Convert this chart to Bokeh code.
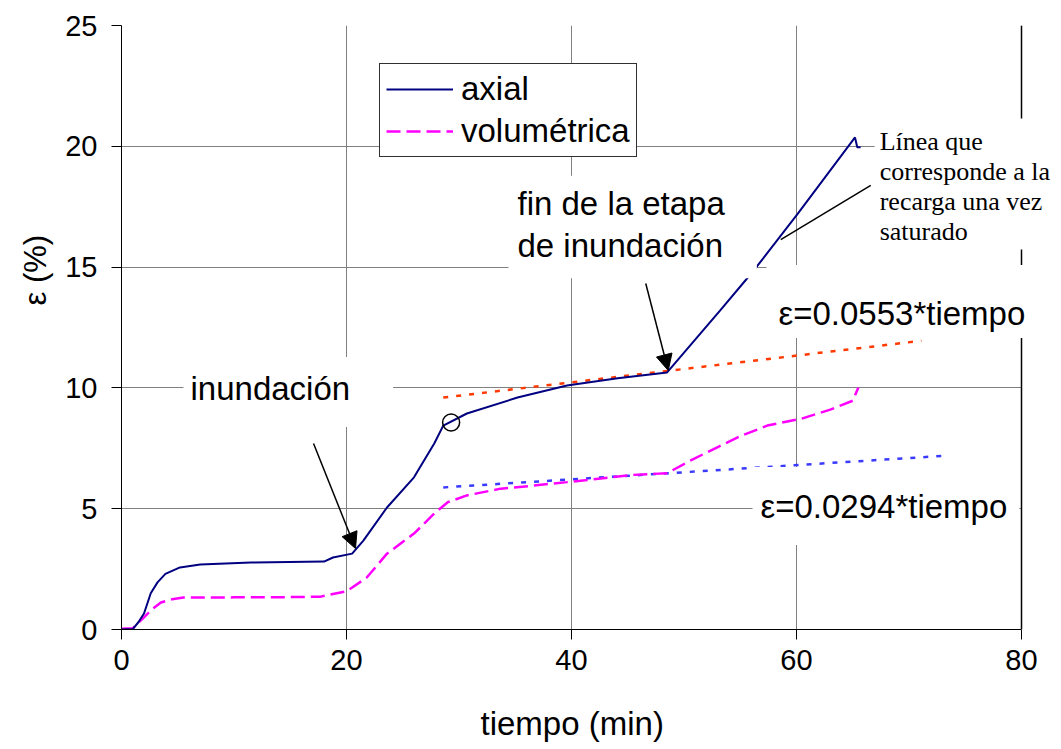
import math
from bokeh.plotting import figure
from bokeh.models import (Label, Arrow, NormalHead, Span, FixedTicker, Range1d,
                          BoxAnnotation, Title)
from bokeh.embed import file_html
from bokeh.resources import INLINE

# ---- data ----
axial_t = [0, 1.0, 1.5, 2.0, 2.6, 3.2, 3.9, 5.2, 7.0, 11.5, 18.0, 18.8, 20.5, 21.5, 23.6,
           26.0, 27.8, 28.6, 30.7, 35.2, 39.6, 44.1, 48.5, 53.2, 56.2, 60.1, 65.2, 65.4, 65.7]
axial_e = [0, 0.02, 0.3, 0.66, 1.5, 1.95, 2.3, 2.57, 2.69, 2.77, 2.81, 2.98, 3.14, 3.68, 5.05,
           6.3, 7.7, 8.44, 8.94, 9.6, 10.1, 10.4, 10.64, 13.2, 14.86, 17.2, 20.37, 19.96, 19.96]

vol_t = [0, 1.0, 2.0, 2.6, 3.5, 4.5, 5.5, 10, 15, 17.7, 18.9, 20.0, 21.8, 23.6, 26.0, 27.8,
         29.0, 30.7, 33.7, 36.5, 39.6, 42.6, 45.5, 48.5, 50.6, 53.0, 55.0, 57.4, 60.4, 63.0,
         65.0, 65.5]
vol_e = [0.03, 0.05, 0.5, 0.79, 1.12, 1.25, 1.32, 1.33, 1.34, 1.36, 1.48, 1.58, 2.15, 3.14,
         3.97, 4.8, 5.27, 5.55, 5.83, 5.95, 6.1, 6.25, 6.4, 6.47, 7.0, 7.55, 8.0, 8.44, 8.72,
         9.1, 9.47, 10.02]

axial_fit_t = [28.6, 71.1]
axial_fit_e = [9.60, 11.95]
vol_fit_t = [28.6, 73.5]
vol_fit_e = [5.88, 7.20]

marker_t = [29.3]
marker_e = [8.57]

x_ticks = [0, 20, 40, 60, 80]
y_ticks = [0, 5, 10, 15, 20, 25]

FONT = "Liberation Sans"
SERIF = "Liberation Serif"

# frame runs to the right edge of the page so that the right-hand notes are not clipped;
# the axis itself stops at 80
X_END = 80 + 40 / 11.25

p = figure(width=1061, height=749, x_range=Range1d(0, X_END), y_range=Range1d(0, 25),
           output_backend="svg", toolbar_location=None,
           min_border_left=121, min_border_right=0, min_border_top=25, min_border_bottom=120)
p.outline_line_color = None
p.background_fill_color = "white"
p.border_fill_color = "white"

for ax, ticks in ((p.xaxis, x_ticks), (p.yaxis, y_ticks)):
    ax.ticker = FixedTicker(ticks=ticks)
    ax.major_label_text_font = FONT
    ax.major_label_text_font_size = "29px"
    ax.major_label_text_color = "black"
    ax.major_tick_in = 0
    ax.major_tick_out = 10
    ax.minor_tick_in = 0
    ax.minor_tick_out = 0
    ax.axis_line_color = "black"
    ax.major_tick_line_color = "black"
p.xaxis.bounds = (0, 80)
p.yaxis.bounds = (0, 25)
p.xaxis.major_label_standoff = 10
p.yaxis.major_label_standoff = 14
# blank spacer label: keeps room between the tick labels and the axis title
p.xaxis.axis_label = " "
p.xaxis.axis_label_text_font_size = "1px"
p.xaxis.axis_label_standoff = 26

# axis titles
p.add_layout(Title(text="tiempo (min)", text_font=FONT, text_font_size="33px",
                   text_font_style="normal", text_color="black", align="left",
                   vertical_align="bottom", offset=359, standoff=0), "below")
p.add_layout(Title(text="ε (%)", text_font=FONT, text_font_size="31px",
                   text_font_style="normal", text_color="black", align="left",
                   offset=324, standoff=20), "left")

p.xgrid.ticker = FixedTicker(ticks=x_ticks)
p.ygrid.ticker = FixedTicker(ticks=y_ticks)
p.grid.grid_line_color = "#808080"
p.grid.grid_line_width = 1

# data lines
p.line(axial_fit_t, axial_fit_e, line_color="#FF3A00", line_width=2.5, line_dash="5 8")
p.line(vol_fit_t, vol_fit_e, line_color="#3A3AFF", line_width=2.5, line_dash="5 8")
p.line(vol_t, vol_e, line_color="#FF00FF", line_width=2.5, line_dash="14 6",
       legend_label="volumétrica")
p.line(axial_t, axial_e, line_color="#000080", line_width=2, legend_label="axial")
p.scatter(marker_t, marker_e, marker="circle", size=17, fill_color=None,
          line_color="black", line_width=1.5)

# blank the strip right of the plot area, then the right border line
p.add_layout(BoxAnnotation(left=80, fill_color="white", fill_alpha=1, line_color=None))
p.add_layout(Span(location=80, dimension="height", line_color="black", line_width=1.5))

# arrows
p.add_layout(Arrow(end=NormalHead(size=16, fill_color="black", line_color="black"),
                   x_start=17.07, y_start=7.70, x_end=20.8, y_end=3.35, line_width=1.5))
p.add_layout(Arrow(end=NormalHead(size=16, fill_color="black", line_color="black"),
                   x_start=46.6, y_start=14.32, x_end=48.6, y_end=10.72, line_width=1.5))
p.add_layout(Arrow(end=None, x_start=58.6, y_start=16.14, x_end=66.6, y_end=18.38,
                   line_width=1.5))

# padding tuples are (left, right, top, bottom)
def lab(text, x, y, size, font=FONT, pad=(4, 4, 4, 4), align="left", baseline="middle",
        lh=1.2):
    l = Label(x=x, y=y, text=text, text_font=font, text_font_size=size,
              text_align=align, text_baseline=baseline, text_line_height=lh,
              background_fill_color="white", padding=pad, text_color="black")
    p.add_layout(l)
    return l

lab("inundación", 5.51, 9.83, "33px", pad=(7, 43, 13, 20))
lab("fin de la etapa\nde inundación", 34.4, 16.66, "33px", pad=(9, 32, 9, 14), lh=1.15)
lab("ε=0.0553*tiempo", 57.33, 13.575, "33px", pad=(12, 12, 30, 6))
lab("ε=0.0294*tiempo", 56.09, 5.11, "33px", pad=(8, 12, 21, 20))
lab("Línea que\ncorresponde a la\nrecarga una vez\nsaturado", 66.95, 21.15, "26px",
    font=SERIF, pad=(5, 12, 8, 3), baseline="top", lh=1.045)

# legend
lg = p.legend[0]
lg.location = (258, 472)
lg.label_text_font = FONT
lg.label_text_font_size = "33px"
lg.label_text_color = "black"
lg.glyph_width = 67
lg.glyph_height = 36
lg.label_height = 36
lg.label_standoff = 8
lg.padding = 6
lg.spacing = 4
lg.margin = 0
lg.border_line_color = "#303030"
lg.border_line_alpha = 1
lg.border_line_width = 1
lg.background_fill_alpha = 1
lg.items = list(reversed(lg.items))

open("out.html", "w").write(file_html(p, INLINE))
